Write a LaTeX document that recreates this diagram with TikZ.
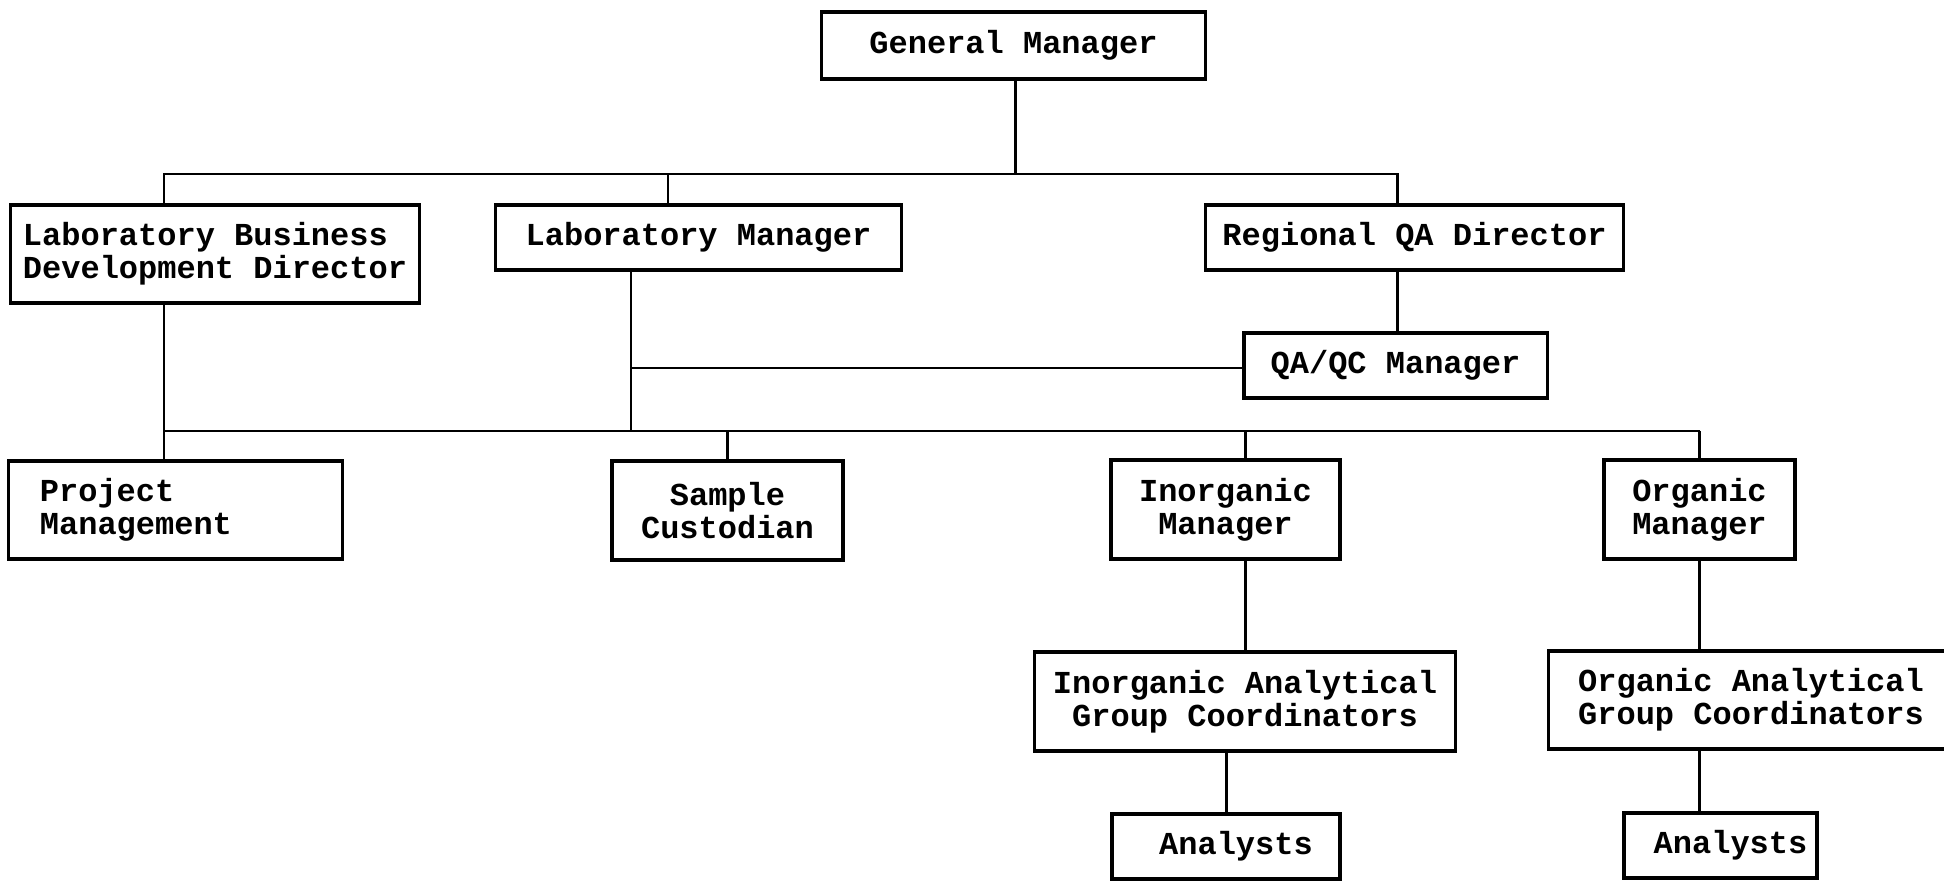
\documentclass[tikz,border=0pt]{standalone}
\usepackage{fontspec}
\setmainfont{Liberation Mono}
\usepackage{tikz}
\usetikzlibrary{positioning, calc}

\begin{document}
\begin{tikzpicture}[
    x=0.01cm, y=-0.01cm,
    box/.style={draw=black, line width=0.9pt, inner sep=0pt, outer sep=0pt, align=center, font=\fontsize{9.1pt}{9.4pt}\selectfont\bfseries},
    link/.style={draw=black, line width=0.85pt}
  ]
  \useasboundingbox (0,0) rectangle (1944,882);

  % top levels
  \node[box, minimum width=3.83cm, minimum height=0.67cm] (gm) at (1013.5, 45.5) {General Manager};
  \node[box, minimum width=4.08cm, minimum height=0.98cm, align=left] (lbdd) at (215, 254) {Laboratory Business\\Development Director};
  \node[box, minimum width=4.05cm, minimum height=0.65cm] (lm) at (698.5, 237.5) {Laboratory Manager};
  \node[box, minimum width=4.17cm, minimum height=0.65cm] (rqa) at (1414.5, 237.5) {Regional QA Director};
  \node[box, minimum width=3.03cm, minimum height=0.65cm] (qaqc) at (1395.5, 365.5) {QA/QC Manager};

  % departments
  \node[box, text width=2.71cm, inner xsep=0.31cm, minimum height=0.98cm, align=left] (pm) at (175.5, 510) {Project\\Management};
  \node[box, minimum width=2.31cm, minimum height=0.99cm] (sc) at (727.5, 510.5) {Sample\\Custodian};
  \node[box, minimum width=2.29cm, minimum height=0.99cm] (im) at (1225.5, 509.5) {Inorganic\\Manager};
  \node[box, minimum width=1.91cm, minimum height=0.99cm] (om) at (1699.5, 509.5) {Organic\\Manager};
  \node[box, minimum width=4.20cm, minimum height=0.99cm] (iagc) at (1245, 701.5) {Inorganic Analytical\\Group Coordinators};
  \node[box, minimum width=4.04cm, minimum height=0.98cm] (oagc) at (1751, 700) {Organic Analytical\\Group Coordinators};
  \node[box, minimum width=2.28cm, minimum height=0.65cm] (ana) at (1226, 846.5) {\hspace*{0.2cm}Analysts};
  \node[box, minimum width=1.93cm, minimum height=0.65cm] (anb) at (1720.5, 845.5) {\hspace*{0.2cm}Analysts};

  % bus junctions
  \coordinate (topbus) at (1015, 174);
  \coordinate (lowbus) at (631, 431);
  \coordinate (qajoin) at (631, 368);

  % top bus
  \draw[link] (gm.south -| topbus) -- (topbus);
  \draw[link] (lbdd.north -| 164,0) |- (topbus) -| (rqa.north -| 1397,0);
  \draw[link] (lm.north -| 668,0) -- (topbus -| 668,0);
  \draw[link] (rqa.south -| 1397,0) -- (qaqc.north -| 1397,0);

  % lab manager and QA/QC
  \draw[link] (lm.south -| lowbus) -- (lowbus);
  \draw[link] (qajoin) -- (qaqc.west |- qajoin);

  % lower bus
  \draw[link] (lbdd.south -| 164,0) -- (pm.north -| 164,0);
  \draw[link] (lowbus -| 164,0) -- (lowbus -| om.north);
  \draw[link] (lowbus -| sc.north) -- (sc.north);
  \draw[link] (lowbus -| iagc.north) -- (im.north -| iagc.north);
  \draw[link] (lowbus -| om.north) -- (om.north);

  % analytical groups
  \draw[link] (im.south -| iagc.north) -- (iagc.north);
  \draw[link] (om.south) -- (oagc.north -| om.south);
  \draw[link] (iagc.south -| ana.north) -- (ana.north);
  \draw[link] (oagc.south -| om.south) -- (anb.north -| om.south);
\end{tikzpicture}
\end{document}
